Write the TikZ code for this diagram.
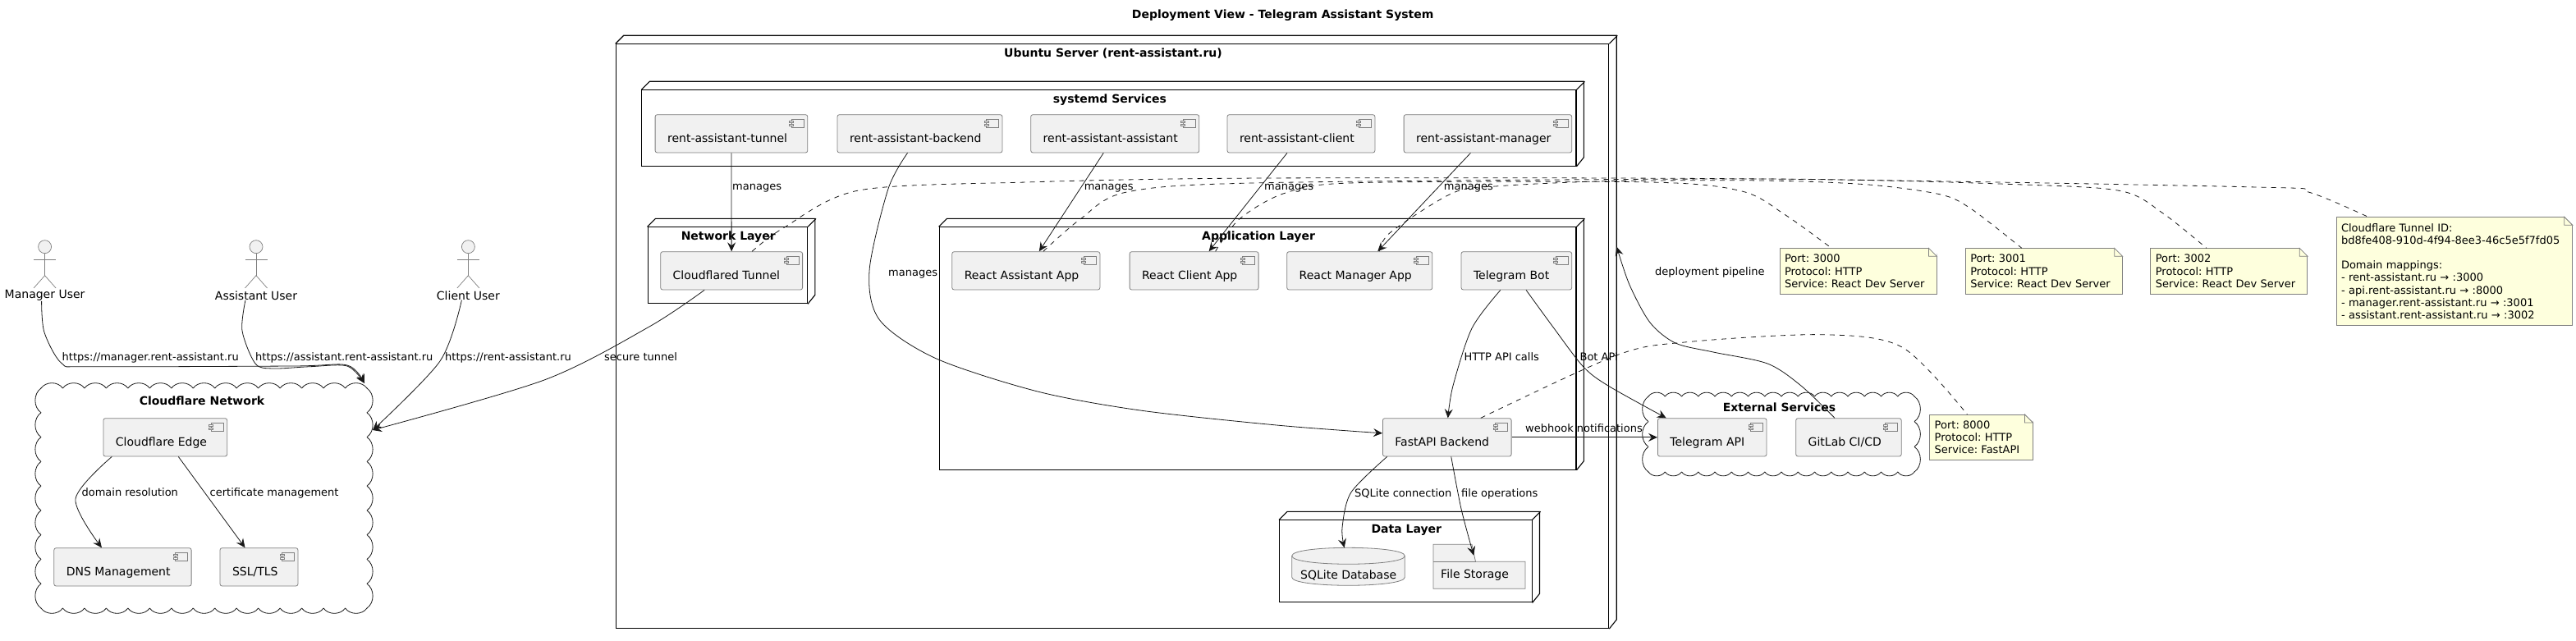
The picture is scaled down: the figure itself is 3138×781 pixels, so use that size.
\documentclass[tikz,border=0pt]{standalone}
\usepackage{fontspec}
\setmainfont{DejaVu Sans}
\frenchspacing
\usetikzlibrary{arrows.meta}

\definecolor{boxfill}{HTML}{F1F1F1}
\definecolor{boxline}{HTML}{7F7F7F}
\definecolor{notefill}{HTML}{FEFFDD}
\definecolor{edgeline}{HTML}{181818}

\tikzset{
  compbox/.style={draw=boxline, fill=boxfill, line width=.8pt, rounded corners=2.5pt, anchor=north west,
    inner xsep=15pt, inner ysep=0pt, text height=34pt, text depth=12.3pt, font=\fontsize{14}{16}\selectfont},
  iconline/.style={draw=boxline, fill=boxfill, line width=.8pt},
  framebox/.style={draw=black, line width=1.1pt, anchor=north west, inner sep=0pt},
  frameline/.style={draw=black, line width=1.1pt},
  frametitle/.style={anchor=base, inner sep=0pt, font=\bfseries\fontsize{14}{16}\selectfont},
  actorline/.style={draw=boxline, line width=.7pt},
  actorlabel/.style={inner sep=0pt, font=\fontsize{14}{16}\selectfont},
  cloudline/.style={draw=edgeline, line width=.8pt},
  edge/.style={draw=edgeline, line width=.8pt, ->},
  noteedge/.style={draw=edgeline, line width=.8pt, dash pattern=on 6pt off 6pt},
  edgelabel/.style={anchor=base west, inner sep=0pt, font=\fontsize{13}{15}\selectfont},
  notebox/.style={draw=boxline, fill=notefill, line width=.8pt, anchor=north west, align=left,
    inner xsep=6pt, inner ysep=0pt, font=\fontsize{13}{15.2}\selectfont},
}

% name, x, y, width, text
\newcommand{\compnode}[5]{%
  \node[compbox] (#1) at (#2,#3) {\makebox[\dimexpr#4pt-30pt\relax][l]{#5}};
  \draw[iconline] ([xshift=-20pt,yshift=-6pt]#1.north east) rectangle ++(15,10);
  \draw[iconline] ([xshift=-22.5pt,yshift=-8pt]#1.north east) rectangle ++(5,2.5);
  \draw[iconline] ([xshift=-22.5pt,yshift=-12pt]#1.north east) rectangle ++(5,2.5);
}

% name, x, y, width, height, title
\newcommand{\deployframe}[6]{%
  \node[framebox, minimum width=#4pt, minimum height=#5pt] (#1) at (#2,#3) {};
  \draw[frameline] (#1.north west) -- ++(10,-10) -- ++(#4,0) -- ++(0,#5) -- (#1.south east);
  \draw[frameline] (#1.north east) -- ++(10,-10);
  \node[frametitle] (#1Title) at ([xshift=1pt,yshift=-16pt]#1.north) {#6};
}

% name, x, text
\newcommand{\actorfig}[3]{%
  \draw[actorline, fill=boxfill] (#2,300.7) circle (8pt);
  \draw[actorline] (#2,308.7) -- (#2,335.7);
  \draw[actorline] (#2-13.5,316.3) -- (#2+13.5,316.3);
  \draw[actorline] (#2-13.5,351) -- (#2,335.7) -- (#2+13.5,351);
  \node[actorlabel] (#1) at (#2,360) {#3};
}

% x1, y1, x2, y2, bumps across, bumps down
\newcommand{\scallop}[6]{%
  \pgfmathsetmacro{\dxb}{(#3-#1)/#5}
  \pgfmathsetmacro{\dyb}{(#4-#2)/#6}
  \foreach \i in {1,...,#5} {
    \draw[cloudline] ({#1+(\i-1)*\dxb},#2) to[bend left=55] ({#1+\i*\dxb},#2);
    \draw[cloudline] ({#3-(\i-1)*\dxb},#4) to[bend left=55] ({#3-\i*\dxb},#4);
  }
  \foreach \i in {1,...,#6} {
    \draw[cloudline] (#3,{#2+(\i-1)*\dyb}) to[bend left=55] (#3,{#2+\i*\dyb});
    \draw[cloudline] (#1,{#4-(\i-1)*\dyb}) to[bend left=55] (#1,{#4-\i*\dyb});
  }
}

% name, x, y, width, height, text
\newcommand{\notenode}[6]{%
  \pgfmathsetmacro{\tw}{#4-12}
  \node[notebox, text width=\tw pt, minimum height=#5pt] (#1) at (#2,#3) {#6};
  \fill[white] ([xshift=-10pt]#1.north east) -- ([xshift=1pt,yshift=1pt]#1.north east) -- ([yshift=-10pt]#1.north east) -- cycle;
  \draw[iconline, fill=notefill] ([xshift=-10pt]#1.north east) -- ([yshift=-10pt]#1.north east) -- ([xshift=-10pt,yshift=-10pt]#1.north east) -- cycle;
}

\begin{document}
\begin{tikzpicture}[x=1pt, y=-1pt, >={Stealth[length=11pt,width=10pt,inset=4pt]}]
\useasboundingbox (0,0) rectangle (3138,781);

\node[frametitle] (diagramTitle) at (1562.7,23) {Deployment View - Telegram Assistant System};

% frames
\deployframe{ubuntuServer}{749.7}{53.3}{1209.5}{711.7}{Ubuntu Server (rent-assistant.ru)}
\deployframe{systemdServices}{781.3}{109.3}{1138.1}{92.4}{systemd Services}
\deployframe{networkLayer}{788.5}{276.3}{194.4}{93}{Network Layer}
\deployframe{appLayer}{1143.6}{276.3}{775.8}{295.4}{Application Layer}
\deployframe{dataLayer}{1558}{633.3}{307.5}{100}{Data Layer}

% clouds
\scallop{50}{473}{447}{741}{15}{9}
\node[frametitle] (cloudflareTitle) at (246,493) {Cloudflare Network};
\coordinate (cloudTop) at (444,467);
\coordinate (cloudRight) at (454,524);

\scallop{2008}{483}{2332}{575}{16}{3}
\node[frametitle] (externalTitle) at (2167.5,501) {External Services};

% actors
\actorfig{managerUser}{54.6}{Manager User}
\actorfig{assistantUser}{312}{Assistant User}
\actorfig{clientUser}{570.4}{Client User}

% components
\compnode{cfEdge}{125.5}{509.3}{150.8}{Cloudflare Edge}
\compnode{dnsMgmt}{65.4}{667.3}{167.3}{DNS Management}
\compnode{sslTls}{267.6}{667.3}{95}{SSL/TLS}

\compnode{svcTunnel}{797.7}{139.3}{185.7}{rent-assistant-tunnel}
\compnode{svcBackend}{1019.6}{139.3}{201}{rent-assistant-backend}
\compnode{svcAssistant}{1255.3}{139.3}{205.1}{rent-assistant-assistant}
\compnode{svcClient}{1494.6}{139.3}{179.9}{rent-assistant-client}
\compnode{svcManager}{1709.7}{139.3}{204.6}{rent-assistant-manager}

\compnode{cfTunnel}{804.3}{306.3}{172.9}{Cloudflared Tunnel}
\compnode{reactAssistant}{1159.4}{306.3}{180.1}{React Assistant App}
\compnode{reactClient}{1375.7}{306.3}{157}{React Client App}
\compnode{reactManager}{1567.3}{306.3}{177.1}{React Manager App}
\compnode{telegramBot}{1779.6}{306.3}{134.7}{Telegram Bot}
\compnode{fastApi}{1684}{509.3}{156.7}{FastAPI Backend}
\compnode{telegramApi}{2019}{509.3}{132.6}{Telegram API}
\compnode{gitlabCi}{2187.3}{509.3}{128.5}{GitLab CI/CD}

% database and folder
\draw[iconline] (1573.7,677.3) .. controls (1573.7,664) and (1711.3,664) .. (1711.3,677.3) -- (1711.3,703.3)
  .. controls (1711.3,716.6) and (1573.7,716.6) .. (1573.7,703.3) -- cycle;
\draw[iconline] (1573.7,677.3) .. controls (1573.7,690.6) and (1711.3,690.6) .. (1711.3,677.3);
\node[actorlabel, minimum width=137.6pt, text height=38pt, text depth=8pt, anchor=north west] (sqliteDb) at (1573.7,667.3) {SQLite Database};

\draw[iconline] (1746,663.3) -- (1793,663.3) -- (1797.5,684.3) -- (1858,684.3) -- (1858,717.3) -- (1746,717.3) -- cycle;
\draw[iconline] (1746,684.3) -- (1797.5,684.3);
\node[actorlabel, minimum width=112pt, text height=41pt, text depth=13pt, anchor=north west] (fileStore) at (1746,663.3) {\makebox[94pt][l]{File Storage}};

% notes
\notenode{noteClient}{2167.6}{302.3}{191}{55.4}{Port: 3000\\Protocol: HTTP\\Service: React Dev Server}
\notenode{noteManager}{2393.9}{302.3}{191}{55.4}{Port: 3001\\Protocol: HTTP\\Service: React Dev Server}
\notenode{noteAssistant}{2619.4}{302.3}{191}{55.4}{Port: 3002\\Protocol: HTTP\\Service: React Dev Server}
\notenode{noteBackend}{2350.3}{505}{125.4}{55.3}{Port: 8000\\Protocol: HTTP\\Service: FastAPI}
\notenode{noteTunnel}{2845.6}{264.3}{287.4}{131.4}{Cloudflare Tunnel ID:\\bd8fe408-910d-4f94-8ee3-46c5e5f7fd05\\[15.2pt]Domain mappings:\\- rent-assistant.ru → :3000\\- api.rent-assistant.ru → :8000\\- manager.rent-assistant.ru → :3001\\- assistant.rent-assistant.ru → :3002}

% note connectors
\draw[noteedge] plot[smooth] coordinates {([xshift=25pt]cfTunnel.north) (954,278) (1046,232) (1250,222) (1540,217) (2150,218) (2749,228) (2812,234) ([xshift=-105pt]noteTunnel.north)};
\draw[noteedge] plot[smooth] coordinates {([xshift=21pt]reactAssistant.north) (1316,267) (1372.6,234) (1540,222.7) (2150,218) (2465,225) (2585,233) (2635,260) ([xshift=-27.5pt]noteAssistant.north)};
\draw[noteedge] plot[smooth] coordinates {([xshift=26pt]reactClient.north) (1510,266.7) (1566,235) (1653,222.7) (2010,222) (2122,233) (2175,262) ([xshift=-32.5pt]noteClient.north)};
\draw[noteedge] plot[smooth] coordinates {([xshift=24pt]reactManager.north) (1694,283) (1770,235) (1826,226.7) (1959,220.7) (2150,220) (2276,225) (2364,237) (2402,255) ([xshift=-27pt]noteManager.north)};
\draw[noteedge] plot[smooth] coordinates {([xshift=41pt]fastApi.north) (1969,433) (2052,417) (2218,407.7) (2317,423) ([xshift=-17pt]noteBackend.north)};

% connectors
\draw[edge] plot[smooth] coordinates {([xshift=-4pt]managerUser.south) (54,405) (75.5,443) (110,446.7) (357,446) (423,445) (cloudTop)};
\draw[edge] plot[smooth] coordinates {([xshift=-13pt]assistantUser.south) (295,403) (311,443) (332,449) (378,446.7) (423,446) (cloudTop)};
\draw[edge] plot[smooth] coordinates {([xshift=-8pt]clientUser.south) (536,440) (cloudRight)};
\draw[edge] plot[smooth] coordinates {([xshift=-33pt]cfTunnel.south) (791,398) (663,463) (cloudRight)};

\draw[edge] plot[smooth] coordinates {([xshift=-65pt]cfEdge.south) (92,608) ([xshift=-25.5pt]dnsMgmt.north)};
\draw[edge] ([xshift=16pt]cfEdge.south) -- ([xshift=-17pt]sslTls.north);

\draw[edge] (svcTunnel.south) -- (cfTunnel.north);
\draw[edge] plot[smooth] coordinates {([xshift=-15pt]svcBackend.south) (1082,230) (1059,330) (1071.6,390) (1140,436.7) (1264,477) (1389,500) (1555,518) ([yshift=5pt]fastApi.west)};
\draw[edge] ([xshift=-14pt]svcAssistant.south) -- ([xshift=16pt]reactAssistant.north);
\draw[edge] ([xshift=-17pt]svcClient.south) -- ([xshift=18pt]reactClient.north);
\draw[edge] ([xshift=-21pt]svcManager.south) -- ([xshift=22pt]reactManager.north);

\draw[edge] plot[smooth] coordinates {([xshift=-19.5pt]telegramBot.south) (1793,400) (1770,470) ([xshift=1pt]fastApi.north)};
\draw[edge] plot[smooth] coordinates {([xshift=11.7pt]telegramBot.south) (1893,400) (1928.6,446.7) (1959,470) ([xshift=-56pt]telegramApi.north)};
\draw[edge] (fastApi.east) -- (telegramApi.west);
\draw[edge] plot[smooth] coordinates {([xshift=-73pt]fastApi.south) (1645.8,600) (1635,643) ([xshift=-5pt]sqliteDb.north)};
\draw[edge] plot[smooth] coordinates {([xshift=5pt]fastApi.south) (1780,620) ([xshift=-7pt,yshift=-13.4pt]fileStore.north)};

\coordinate (ubuntuSide) at (1969.4,300.7);
\draw[edge] plot[smooth] coordinates {([xshift=-17pt]gitlabCi.north) (2194,470) (2153,443) (2087,429) (2041,418) (2010,393) (1985,347) (ubuntuSide)};

% connector labels
\node[edgelabel] (lblManager) at (75.5,439.5) {https://manager.rent-assistant.ru};
\node[edgelabel] (lblAssistant) at (311,439.5) {https://assistant.rent-assistant.ru};
\node[edgelabel] (lblClient) at (542,439.5) {https://rent-assistant.ru};
\node[edgelabel] (lblTunnel) at (736,439.5) {secure tunnel};
\node[edgelabel] (lblDomain) at (99.4,604.5) {domain resolution};
\node[edgelabel] (lblCert) at (255.5,604.5) {certificate management};
\node[edgelabel] (lblSvcTunnel) at (892,231.5) {manages};
\node[edgelabel] (lblSvcBackend) at (1082,336) {manages};
\node[edgelabel] (lblSvcAssistant) at (1320.6,231.5) {manages};
\node[edgelabel] (lblSvcClient) at (1540,231.5) {manages};
\node[edgelabel] (lblSvcManager) at (1758.7,231.5) {manages};
\node[edgelabel] (lblHttp) at (1783.5,439.5) {HTTP API calls};
\node[edgelabel] (lblBot) at (1924.4,439.5) {Bot API};
\node[edgelabel] (lblWebhook) at (1858,526.5) {webhook notifications};
\node[edgelabel] (lblSqlite) at (1650,605) {SQLite connection};
\node[edgelabel] (lblFiles) at (1780,605) {file operations};
\node[edgelabel] (lblPipeline) at (2016,335.5) {deployment pipeline};

\end{tikzpicture}
\end{document}
